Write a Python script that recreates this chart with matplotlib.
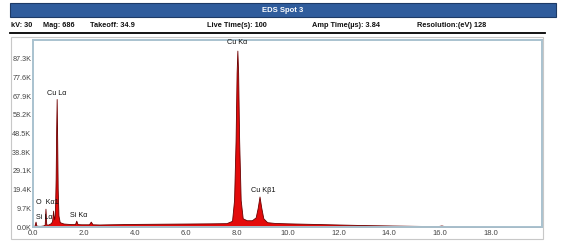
import matplotlib
matplotlib.use("Agg")
import matplotlib.pyplot as plt
from matplotlib.patches import Rectangle
from matplotlib.lines import Line2D

# ---- data ----
energy_kev = [0.0, 0.05, 0.10, 0.13, 0.20, 0.30, 0.40, 0.46, 0.49, 0.52, 0.56, 0.60,
              0.70, 0.75, 0.79, 0.83, 0.86, 0.89, 0.91, 0.93, 0.95, 0.97, 1.00, 1.05,
              1.20, 1.50, 1.65, 1.70, 1.75, 1.90, 2.20, 2.27, 2.34, 2.60, 3.0, 4.0,
              5.0, 6.0, 7.0, 7.60, 7.82, 7.90, 7.96, 8.00, 8.03, 8.06, 8.10, 8.16,
              8.24, 8.40, 8.60, 8.75, 8.83, 8.90, 8.97, 9.05, 9.20, 9.50, 10.0, 11.0,
              12.0, 13.0, 14.0, 15.0, 15.9, 16.05, 16.2, 17.0, 18.0, 19.0, 20.0]
counts_k = [0.0, 0.3, 2.8, 0.8, 0.6, 0.6, 0.8, 1.2, 9.5, 1.5, 1.2, 1.3,
            2.0, 3.0, 8.5, 4.0, 6.0, 25.0, 50.0, 66.4, 45.0, 20.0, 6.0, 2.5,
            1.8, 1.5, 1.5, 3.3, 1.5, 1.4, 1.4, 2.8, 1.4, 1.3, 1.4, 1.6,
            1.7, 1.8, 1.9, 2.0, 3.2, 14.0, 45.0, 80.0, 91.5, 80.0, 45.0, 14.0,
            4.5, 3.5, 3.5, 5.0, 10.0, 15.8, 10.0, 4.5, 2.5, 2.1, 1.9, 1.6,
            1.3, 1.0, 0.8, 0.6, 0.45, 0.8, 0.35, 0.25, 0.15, 0.05, 0.0]

y_ticks_k = [0.0, 9.7, 19.4, 29.1, 38.8, 48.5, 58.2, 67.9, 77.6, 87.3]
x_ticks = [0.0, 2.0, 4.0, 6.0, 8.0, 10.0, 12.0, 14.0, 16.0, 18.0]

peak_labels = ["Cu K\u03b1", "Cu L\u03b1", "Cu K\u03b21", "Si K\u03b1", "O  K\u03b11", "Si L\u03b1"]
peak_label_pos = [(8.03, 94.0), (0.55, 67.5), (8.55, 17.0), (1.45, 4.2), (0.1, 11.0), (0.1, 3.0)]
peak_label_ha = ["center", "left", "left", "left", "left", "left"]

header_title = "EDS Spot 3"
info_items = ["kV: 30", "Mag: 686", "Takeoff: 34.9", "Live Time(s): 100",
              "Amp Time(\u00b5s): 3.84", "Resolution:(eV) 128"]
info_x_px = [11, 43, 90, 207, 312, 417]

# ---- figure ----
W, H = 561, 244
fig = plt.figure(figsize=(W / 100, H / 100), dpi=100)
fig.patch.set_facecolor("white")
plt.rcParams['font.family'] = ['Liberation Sans', 'DejaVu Sans']

def fx(px):
    return px / W

def fy(py):
    return 1 - py / H

# header bar
fig.patches.append(Rectangle((fx(10), fy(17)), fx(546), 14 / H, transform=fig.transFigure,
                             facecolor="#2f5c9c", edgecolor="#1d3a66", lw=0.8))
fig.text(fx(283), fy(10), header_title, color="white", fontsize=5.5, ha="center",
         va="center", fontweight="bold")
for txt, xp in zip(info_items, info_x_px):
    fig.text(fx(xp), fy(25.5), txt, fontsize=5.3, ha="left", va="center",
             fontweight="bold", color="#111111")
fig.lines.append(Line2D([fx(10), fx(545)], [fy(33), fy(33)], transform=fig.transFigure,
                        color="black", lw=1.3))
# outer frame
fig.patches.append(Rectangle((fx(11), fy(239)), fx(532), 202 / H, transform=fig.transFigure,
                             facecolor="none", edgecolor="#c8c8c8", lw=0.8))

# axes
ax = fig.add_axes([fx(33), fy(227), fx(509), 187 / H])
ax.set_facecolor("white")
ax.fill_between(energy_kev, 0, [c * 1000 for c in counts_k], facecolor="#e30b0b",
                edgecolor="#6a0000", lw=0.6)
ax.set_xlim(0, 20)
ax.set_ylim(0, 97000)
ax.set_xticks(x_ticks)
ax.set_xticklabels([f"{v:.1f}" for v in x_ticks])
ax.set_yticks([v * 1000 for v in y_ticks_k])
ax.set_yticklabels([f"{v:.1f}K" for v in y_ticks_k])
ax.tick_params(axis="x", length=0, labelsize=5.5, colors="#444444", pad=2)
ax.tick_params(axis="y", length=0, labelsize=5.2, colors="#444444", pad=1.2)
for s in ax.spines.values():
    s.set_color("#a9c2cf")
    s.set_linewidth(1.4)

for lab, (xv, yv), ha in zip(peak_labels, peak_label_pos, peak_label_ha):
    ax.text(xv, yv * 1000, lab, fontsize=5.2, ha=ha, va="bottom", color="#111111")

fig.savefig("out.png", dpi=100)
